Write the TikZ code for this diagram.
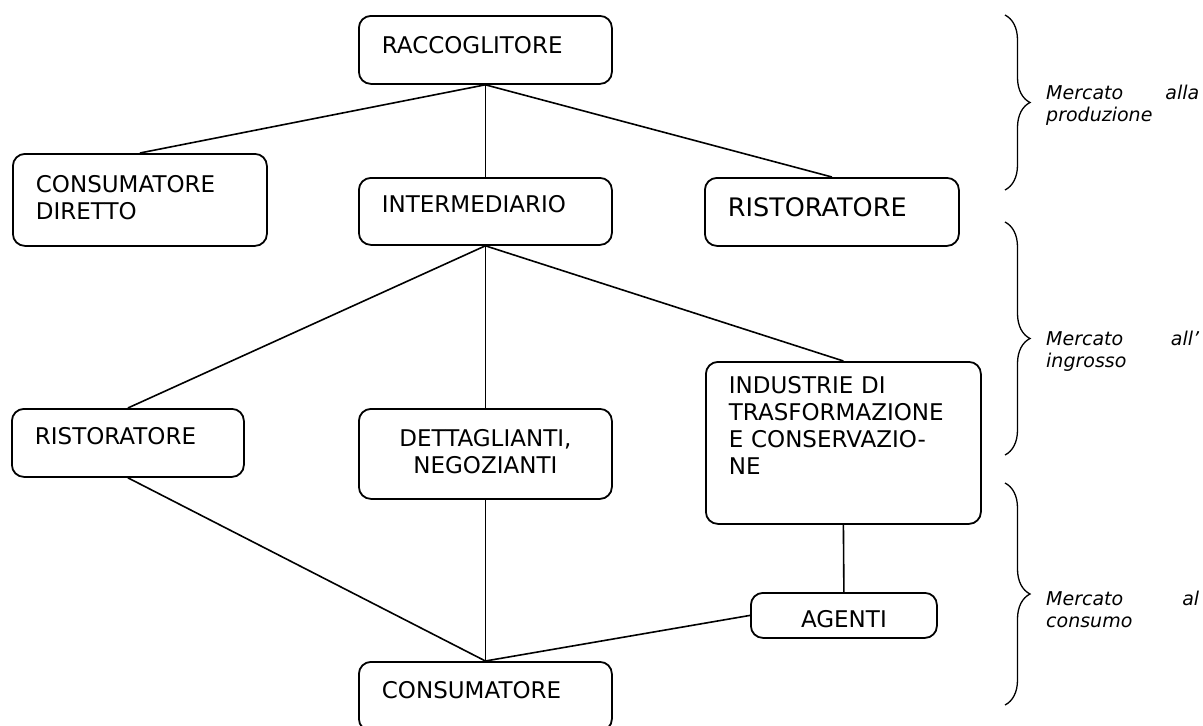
\documentclass[tikz,border=0pt]{standalone}
\usepackage{fontspec}
\setmainfont{DejaVu Sans}
\usetikzlibrary{decorations.pathreplacing}

\tikzset{
  market box/.style={draw, rounded corners=12pt, line width=1.8pt, anchor=north west,
    inner ysep=0pt, inner xsep=23pt, align=left, font=\fontsize{23}{27}\selectfont},
  link/.style={line width=1.6pt},
  market brace/.style={decorate, decoration={brace, amplitude=25pt}, line width=1.3pt},
  market label/.style={anchor=base west, text width=153pt, align=left, inner sep=0pt,
    font=\fontsize{19}{22}\selectfont\itshape}
}

\begin{document}
\begin{tikzpicture}[x=1pt,y=-1pt]
  \useasboundingbox (0,0) rectangle (1203,726);

  % first level
  \node[market box, text width=207pt, text height=38pt, text depth=30pt] (raccoglitore) at (358,15) {RACCOGLITORE};
  \node[market box, text width=208pt, text height=39pt, text depth=53pt] (diretto) at (12,153) {CONSUMATORE\\DIRETTO};
  \node[market box, text width=207pt, text height=35pt, text depth=32pt] (intermediario) at (358,177) {INTERMEDIARIO};
  \node[market box, text width=208pt, text height=39pt, text depth=29pt, font=\fontsize{25.5}{30}\selectfont] (ristoratore_a) at (704,177) {RISTORATORE};

  % second level
  \node[market box, text width=186pt, text height=36pt, text depth=32pt] (ristoratore_b) at (11,408) {RISTORATORE};
  \node[market box, inner xsep=10pt, align=center, text width=233pt, text height=38pt, text depth=52pt] (dettaglianti) at (358,408) {DETTAGLIANTI,\\NEGOZIANTI};
  \node[market box, text width=229pt, text height=32pt, text depth=130pt] (industrie) at (705,361) {INDUSTRIE DI\\TRASFORMAZIONE\\E CONSERVAZIO-\\NE};
  \node[market box, inner xsep=10pt, align=center, text width=166pt, text height=35pt, text depth=10pt] (agenti) at (750,592) {AGENTI};
  \node[market box, text width=207pt, text height=37pt, text depth=32pt] (consumatore) at (358,661) {CONSUMATORE};

  \draw[link] (raccoglitore.south) -- (diretto.north);
  \draw[link] (raccoglitore.south) -- (intermediario.north);
  \draw[link] (raccoglitore.south) -- (ristoratore_a.north);
  \draw[link] (intermediario.south) -- (ristoratore_b.north);
  \draw[link] (intermediario.south) -- (dettaglianti.north);
  \draw[link] (intermediario.south) -- (industrie.north);
  \draw[link] (ristoratore_b.south) -- (consumatore.north);
  \draw[link] (dettaglianti.south) -- (consumatore.north);
  \draw[link] (agenti.west) -- (consumatore.north);
  \draw[link] (industrie.south) -- (agenti.north);

  % markets
  \draw[market brace] (1005,15) -- (1005,190);
  \draw[market brace] (1005,222) -- (1005,455);
  \draw[market brace] (1005,483) -- (1005,705);
  \node[market label] (produzione) at (1046,99) {Mercato\hfill alla\\produzione};
  \node[market label] (ingrosso) at (1046,345) {Mercato\hfill all’\\ingrosso};
  \node[market label] (consumo) at (1046,605) {Mercato\hfill al\\consumo};
\end{tikzpicture}
\end{document}
